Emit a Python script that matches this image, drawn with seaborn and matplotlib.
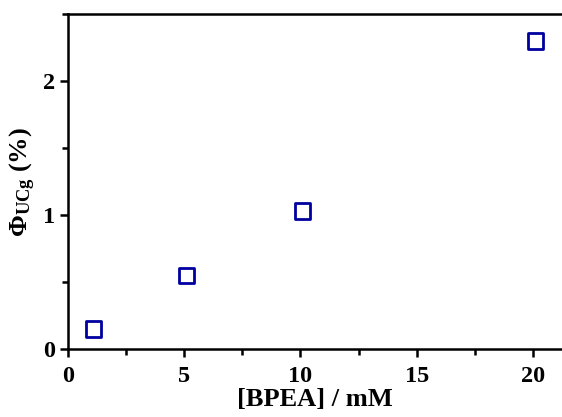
import matplotlib
matplotlib.use('Agg')
import matplotlib.pyplot as plt
import seaborn as sns
import pandas as pd
from matplotlib.ticker import MultipleLocator

bpea = [1.1, 5.1, 10.1, 20.1]
phi_ucg = [0.15, 0.55, 1.03, 2.3]

df = pd.DataFrame({'bpea': bpea, 'phi': phi_ucg})

sns.set_theme(style='ticks')
plt.rcParams['font.family'] = ['Liberation Serif', 'DejaVu Serif']
plt.rcParams['font.weight'] = 'bold'
plt.rcParams['text.color'] = 'black'
plt.rcParams['axes.labelcolor'] = 'black'
plt.rcParams['mathtext.fontset'] = 'custom'
plt.rcParams['mathtext.rm'] = 'Liberation Serif:bold'
plt.rcParams['mathtext.bf'] = 'Liberation Serif:bold'
plt.rcParams['mathtext.it'] = 'Liberation Serif:bold'

fig = plt.figure(figsize=(5.62, 4.17), dpi=100)
ax = fig.add_axes([0.121, 0.163, 0.879, 0.803])

sns.scatterplot(data=df, x='bpea', y='phi', marker='s', s=120,
                facecolors='none', edgecolor='#0000A0', linewidth=2.0, ax=ax)

ax.set_xlim(0, 21.25)
ax.set_ylim(0, 2.5)
ax.xaxis.set_major_locator(MultipleLocator(5))
ax.xaxis.set_minor_locator(MultipleLocator(2.5))
ax.yaxis.set_major_locator(MultipleLocator(1))
ax.yaxis.set_minor_locator(MultipleLocator(0.5))

for side in ['left', 'bottom', 'top']:
    ax.spines[side].set_linewidth(1.8)
    ax.spines[side].set_color('black')
ax.spines['right'].set_visible(False)

ax.tick_params(which='major', direction='out', length=6, width=1.8,
               labelsize=17.5, colors='black', pad=3)
ax.tick_params(axis='x', which='major', pad=6)
ax.tick_params(which='minor', direction='out', length=4, width=1.8, colors='black')
for lab in ax.get_xticklabels() + ax.get_yticklabels():
    lab.set_fontweight('bold')

ax.set_xlabel('[BPEA] / mM', fontsize=19, fontweight='bold', labelpad=1)
ax.set_ylabel(r'$\Phi_{\mathrm{UCg}}$ (%)', fontsize=19, fontweight='bold', labelpad=4)

fig.savefig('out.png', dpi=100)
